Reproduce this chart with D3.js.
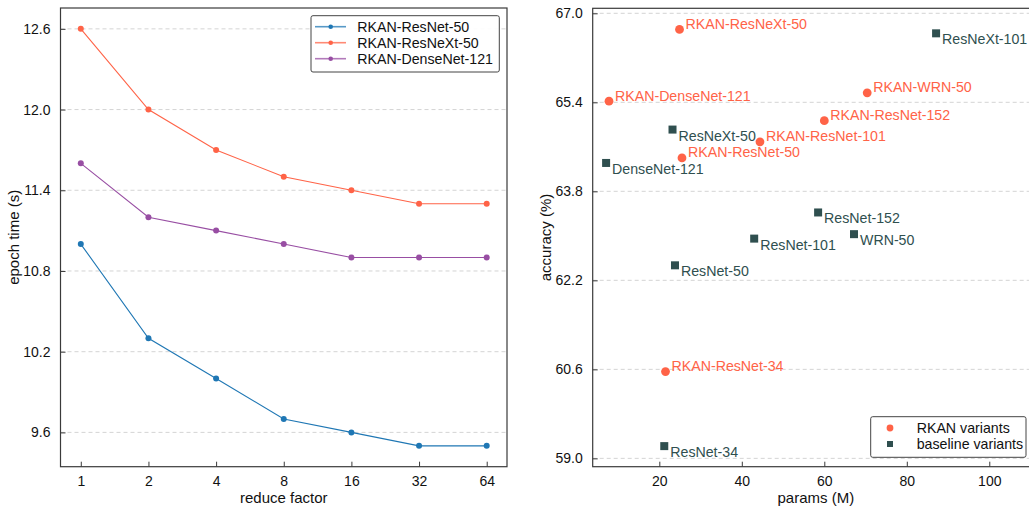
<!DOCTYPE html>
<html><head><meta charset="utf-8">
<script src="https://cdn.jsdelivr.net/npm/d3@7"></script>
<style>
html,body{margin:0;padding:0;background:#fff;}
svg{display:block;font-family:"Liberation Sans",Arial,Helvetica,sans-serif;}
</style></head>
<body>
<svg id="chart" width="1029" height="508"></svg>
<script>
// ---------- data ----------
const reduceFactors = ["1","2","4","8","16","32","64"];
const rkanResNet50 = [11.0, 10.3, 10.0, 9.7, 9.6, 9.5, 9.5];
const rkanResNeXt50 = [12.6, 12.0, 11.7, 11.5, 11.4, 11.3, 11.3];
const rkanDenseNet121 = [11.6, 11.2, 11.1, 11.0, 10.9, 10.9, 10.9];
const lineSeriesNames = ["RKAN-ResNet-50", "RKAN-ResNeXt-50", "RKAN-DenseNet-121"];
const leftYTicks = [9.6, 10.2, 10.8, 11.4, 12.0, 12.6];

const rkanNames = ["RKAN-ResNeXt-50","RKAN-DenseNet-121","RKAN-WRN-50","RKAN-ResNet-152","RKAN-ResNet-101","RKAN-ResNet-50","RKAN-ResNet-34"];
const rkanParams = [24.9, 7.8, 70.4, 60.0, 44.4, 25.5, 21.5];
const rkanAcc = [66.71, 65.42, 65.57, 65.07, 64.69, 64.40, 60.56];
const baseNames = ["ResNeXt-101","ResNeXt-50","DenseNet-121","ResNet-152","WRN-50","ResNet-101","ResNet-50","ResNet-34"];
const baseParams = [87.1, 23.2, 7.1, 58.5, 67.2, 43.0, 23.8, 21.2];
const baseAcc = [66.64, 64.91, 64.31, 63.42, 63.03, 62.95, 62.47, 59.22];
const rightXTicks = [20, 40, 60, 80, 100];
const rightYTicks = [59.0, 60.6, 62.2, 63.8, 65.4, 67.0];
const scatterLegend = ["RKAN variants", "baseline variants"];

// ---------- styles ----------
const lineColors = ["#1f77b4", "#ff6347", "#984ea3"];
const rkanColor = "#ff6347";
const baseColor = "#2f4f4f";
const spineColor = "#3a3a3a";
const gridColor = "#cfcfcf";

const svg = d3.select("#chart");

function drawAxesFrame(g, x0, x1, y0, y1) {
  g.append("rect").attr("x", x0).attr("y", y0).attr("width", x1 - x0).attr("height", y1 - y0)
    .attr("fill", "none").attr("stroke", spineColor).attr("stroke-width", 1.2);
}

// ================= LEFT PANEL =================
const L = {x0: 60.5, x1: 507, y0: 8, y1: 466.7};
const xL = d3.scalePoint().domain(reduceFactors).range([L.x0, L.x1]).padding(0.3);
const yL = d3.scaleLinear().domain([9.345, 12.755]).range([L.y1, L.y0]);
const gL = svg.append("g");

// grid
gL.selectAll("line.grid").data(leftYTicks).join("line")
  .attr("x1", L.x0).attr("x2", L.x1).attr("y1", d => yL(d)).attr("y2", d => yL(d))
  .attr("stroke", gridColor).attr("stroke-width", 0.9).attr("stroke-dasharray", "4,3");

// axes
const axL = gL.append("g").attr("transform", `translate(0,${L.y1})`)
  .call(d3.axisBottom(xL).tickSizeInner(-5).tickSizeOuter(0).tickPadding(9));
const ayL = gL.append("g").attr("transform", `translate(${L.x0},0)`)
  .call(d3.axisLeft(yL).tickValues(leftYTicks).tickFormat(d3.format(".1f")).tickSizeInner(-5).tickSizeOuter(0).tickPadding(10));
[axL, ayL].forEach(a => {
  a.select(".domain").remove();
  a.selectAll(".tick line").attr("stroke", spineColor).attr("stroke-width", 1);
  a.selectAll(".tick text").attr("font-size", 14).attr("fill", "#111").attr("font-family", "Liberation Sans, Arial, sans-serif");
});

// series
const seriesL = [rkanResNet50, rkanResNeXt50, rkanDenseNet121];
const lineGen = d3.line().x((d, i) => xL(reduceFactors[i])).y(d => yL(d));
seriesL.forEach((s, k) => {
  gL.append("path").attr("d", lineGen(s)).attr("fill", "none")
    .attr("stroke", lineColors[k]).attr("stroke-width", 1.1);
  gL.selectAll(null).data(s).join("circle")
    .attr("cx", (d, i) => xL(reduceFactors[i])).attr("cy", d => yL(d)).attr("r", 3)
    .attr("fill", lineColors[k]);
});
drawAxesFrame(gL, L.x0, L.x1, L.y0, L.y1);

// legend
const lgL = gL.append("g");
lgL.append("rect").attr("x", 311).attr("y", 15.7).attr("width", 188.3).attr("height", 56.3)
  .attr("rx", 2).attr("fill", "rgba(255,255,255,0.9)").attr("stroke", "#444").attr("stroke-width", 1);
lineSeriesNames.forEach((n, k) => {
  const yy = 26.7 + k * 16;
  lgL.append("line").attr("x1", 315).attr("x2", 346).attr("y1", yy).attr("y2", yy)
    .attr("stroke", lineColors[k]).attr("stroke-width", 1.6).attr("stroke-opacity", 0.75);
  lgL.append("circle").attr("cx", 330.7).attr("cy", yy).attr("r", 2.3).attr("fill", lineColors[k]);
  lgL.append("text").attr("x", 357.3).attr("y", yy).attr("dy", "0.35em").attr("font-size", 14.2)
    .attr("fill", "#111").text(n);
});

// axis labels
gL.append("text").attr("x", 283.75).attr("y", 502.5).attr("text-anchor", "middle")
  .attr("font-size", 15).attr("fill", "#111").text("reduce factor");
gL.append("text").attr("transform", `translate(19,${(L.y0 + L.y1) / 2}) rotate(-90)`)
  .attr("text-anchor", "middle").attr("font-size", 15).attr("fill", "#111").text("epoch time (s)");

// ================= RIGHT PANEL =================
const R = {x0: 592.7, x1: 1039, y0: 8.3, y1: 466.7};
const xR = d3.scaleLinear().domain([3.85, 112.05]).range([R.x0, R.x1]);
const yR = d3.scaleLinear().domain([58.85, 67.09]).range([R.y1, R.y0]);
const gR = svg.append("g");

gR.selectAll("line.grid").data(rightYTicks).join("line")
  .attr("x1", R.x0).attr("x2", R.x1).attr("y1", d => yR(d)).attr("y2", d => yR(d))
  .attr("stroke", gridColor).attr("stroke-width", 0.9).attr("stroke-dasharray", "4,3");

const axR = gR.append("g").attr("transform", `translate(0,${R.y1})`)
  .call(d3.axisBottom(xR).tickValues(rightXTicks).tickFormat(d3.format("d")).tickSizeInner(-5).tickSizeOuter(0).tickPadding(9));
const ayR = gR.append("g").attr("transform", `translate(${R.x0},0)`)
  .call(d3.axisLeft(yR).tickValues(rightYTicks).tickFormat(d3.format(".1f")).tickSizeInner(-5).tickSizeOuter(0).tickPadding(10));
[axR, ayR].forEach(a => {
  a.select(".domain").remove();
  a.selectAll(".tick line").attr("stroke", spineColor).attr("stroke-width", 1);
  a.selectAll(".tick text").attr("font-size", 14).attr("fill", "#111").attr("font-family", "Liberation Sans, Arial, sans-serif");
});

// baseline squares
const sq = 8;
baseNames.forEach((n, i) => {
  const px = xR(baseParams[i]), py = yR(baseAcc[i]);
  gR.append("rect").attr("x", px - sq / 2).attr("y", py - sq / 2).attr("width", sq).attr("height", sq)
    .attr("fill", baseColor);
  gR.append("text").attr("x", px + 6).attr("y", py + 11).attr("font-size", 14.2)
    .attr("fill", baseColor).text(n);
});
// RKAN circles
rkanNames.forEach((n, i) => {
  const px = xR(rkanParams[i]), py = yR(rkanAcc[i]);
  gR.append("circle").attr("cx", px).attr("cy", py).attr("r", 4.4).attr("fill", rkanColor);
  gR.append("text").attr("x", px + 6).attr("y", py - 0.5).attr("font-size", 14.2)
    .attr("fill", rkanColor).text(n);
});

drawAxesFrame(gR, R.x0, R.x1, R.y0, R.y1);

// legend
const lgR = gR.append("g");
lgR.append("rect").attr("x", 870.7).attr("y", 416.7).attr("width", 155.3).attr("height", 40.6)
  .attr("rx", 2).attr("fill", "rgba(255,255,255,0.9)").attr("stroke", "#444").attr("stroke-width", 1);
lgR.append("circle").attr("cx", 890).attr("cy", 428).attr("r", 3.4).attr("fill", rkanColor);
lgR.append("rect").attr("x", 887).attr("y", 441).attr("width", 6).attr("height", 6).attr("fill", baseColor);
scatterLegend.forEach((n, k) => {
  lgR.append("text").attr("x", 916.7).attr("y", 428 + k * 16).attr("dy", "0.35em")
    .attr("font-size", 14.2).attr("fill", "#111").text(n);
});

gR.append("text").attr("x", (R.x0 + R.x1) / 2).attr("y", 502.5).attr("text-anchor", "middle")
  .attr("font-size", 15).attr("fill", "#111").text("params (M)");
gR.append("text").attr("transform", `translate(551,${(R.y0 + R.y1) / 2}) rotate(-90)`)
  .attr("text-anchor", "middle").attr("font-size", 15).attr("fill", "#111").text("accuracy (%)");
</script>
</body></html>
